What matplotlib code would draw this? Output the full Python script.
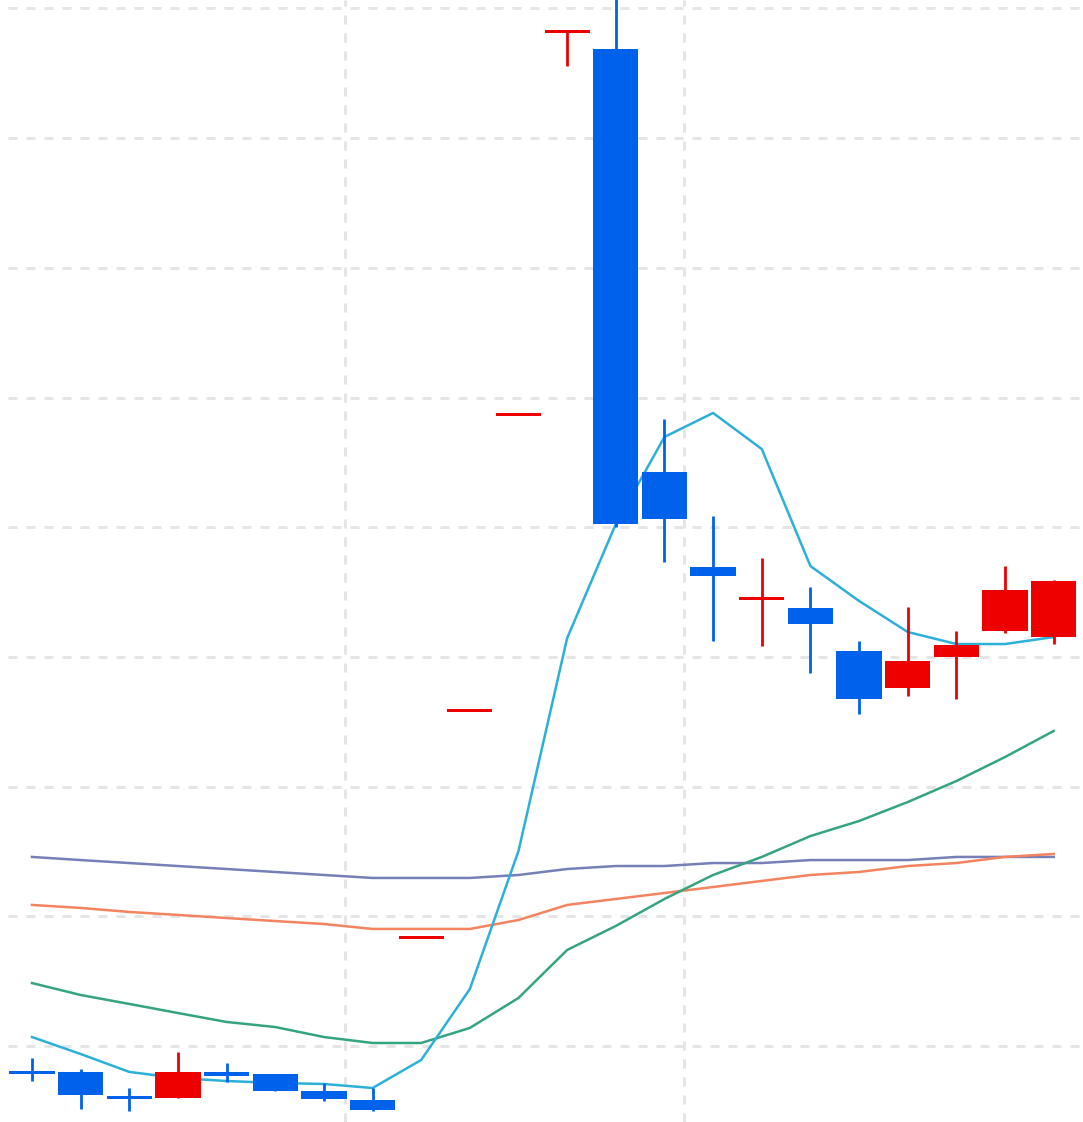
import numpy as np
import matplotlib.pyplot as plt

# candle data (price units, one grid step = 1.0)
opens = [4.805, 4.802, 4.617, 4.601, 4.798, 4.786, 4.655, 4.586, 5.84, 7.59, 9.87,
         12.82, 12.69, 9.426, 8.694, 8.443, 8.378, 8.046, 7.761, 8.000, 8.200, 8.154]
closes = [4.786, 4.624, 4.593, 4.802, 4.771, 4.655, 4.593, 4.509, 5.84, 7.59, 9.87,
          12.82, 9.025, 9.064, 8.624, 8.462, 8.254, 7.676, 7.969, 8.092, 8.516, 8.586]
highs = [4.909, 4.825, 4.678, 4.956, 4.871, 4.786, 4.717, 4.678, 5.84, 7.59, 9.87,
         12.82, 13.40, 9.834, 9.087, 8.763, 8.539, 8.123, 8.385, 8.200, 8.701, 8.590]
lows = [4.732, 4.516, 4.501, 4.601, 4.724, 4.655, 4.578, 4.501, 5.84, 7.59, 9.87,
        12.555, 9.00, 8.732, 8.123, 8.085, 7.877, 7.561, 7.699, 7.676, 8.185, 8.100]

# moving average lines
ma_blue = [5.071, 4.940, 4.802, 4.755, 4.732, 4.717, 4.709, 4.678, 4.894, 5.441, 6.505,
           8.146, 9.025, 9.696, 9.881, 9.603, 8.701, 8.432, 8.193, 8.100, 8.100, 8.154]
ma_green = [5.487, 5.395, 5.326, 5.256, 5.187, 5.148, 5.071, 5.025, 5.025, 5.141, 5.372,
            5.742, 5.927, 6.135, 6.320, 6.459, 6.620, 6.736, 6.882, 7.044, 7.229, 7.430]
ma_orange = [6.089, 6.066, 6.035, 6.012, 5.988, 5.965, 5.942, 5.904, 5.904, 5.904, 5.973,
             6.089, 6.135, 6.181, 6.227, 6.274, 6.320, 6.343, 6.389, 6.412, 6.459, 6.482]
ma_purple = [6.459, 6.435, 6.412, 6.389, 6.366, 6.343, 6.320, 6.297, 6.297, 6.297, 6.320,
             6.366, 6.389, 6.389, 6.412, 6.412, 6.435, 6.435, 6.435, 6.459, 6.459, 6.459]

y_grid = [5, 6, 7, 8, 9, 10, 11, 12, 13]
x_grid = [6.43, 13.40]

UP = '#ee0000'
DOWN = '#0062ea'

fig = plt.figure(figsize=(10.83, 11.22), dpi=100)
ax = fig.add_axes([8 / 1083, 0, 1 - 8 / 1083, 1])

x = np.arange(len(opens))
o = np.array(opens)
c = np.array(closes)
colors = [UP if cc >= oo else DOWN for oo, cc in zip(opens, closes)]

# lines under the candles
ax.plot(x, ma_purple, color='#7580b8', lw=1.8, zorder=2)
ax.plot(x, ma_orange, color='#f3845f', lw=1.8, zorder=2)
ax.plot(x, ma_green, color='#34a57f', lw=1.8, zorder=2)
ax.plot(x, ma_blue, color='#2cb0d8', lw=1.8, zorder=2)

# wicks
ax.vlines(x, lows, highs, colors=colors, lw=2, zorder=3)

# bodies, keep a minimum height so one-price days are visible
height = np.maximum(np.abs(c - o), 0.023)
bottom = np.minimum(o, c) - (height - np.abs(c - o)) / 2
ax.bar(x, height, bottom=bottom, width=0.93, color=colors, linewidth=0, zorder=3)

ax.set_xlim(-0.493, 21.603)
ax.set_ylim(4.416, 13.064)
ax.set_yticks(y_grid)
ax.set_xticks(x_grid)
ax.grid(True, color='#e5e5e5', lw=2.16, linestyle=(0, (3, 3)), zorder=0)
ax.set_axisbelow(True)
ax.tick_params(length=0, labelbottom=False, labelleft=False)
for s in ax.spines.values():
    s.set_visible(False)

plt.savefig('out.png', dpi=100)
